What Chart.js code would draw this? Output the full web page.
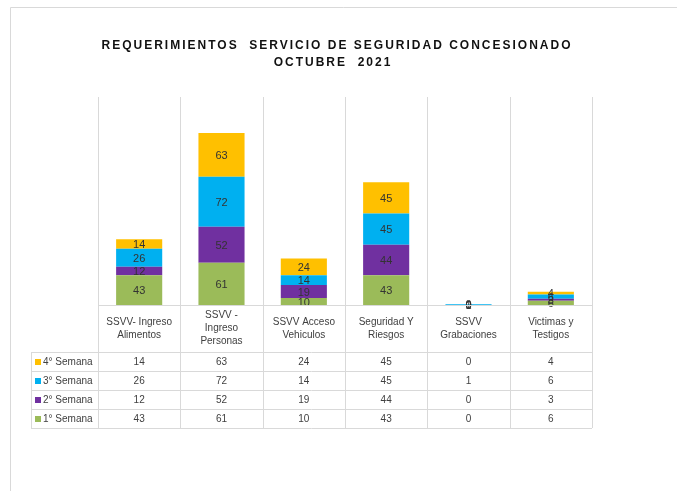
<!DOCTYPE html>
<html>
<head>
<meta charset="utf-8">
<script src="https://cdn.jsdelivr.net/npm/chart.js@4.4.0/dist/chart.umd.min.js"></script>
<style>
  body { margin: 0; background: #fff; }
  #wrap { position: relative; width: 677px; height: 491px; }
</style>
</head>
<body>
<div id="wrap"><canvas id="myChart" width="677" height="491"></canvas></div>
<script>
// categories (header lines of the data table)
const categories = [
  ['SSVV- Ingreso', 'Alimentos'],
  ['SSVV -', 'Ingreso', 'Personas'],
  ['SSVV Acceso', 'Vehiculos'],
  ['Seguridad Y', 'Riesgos'],
  ['SSVV', 'Grabaciones'],
  ['Victimas y', 'Testigos']
];

const semana1 = [43, 61, 10, 43, 0, 6];
const semana2 = [12, 52, 19, 44, 0, 3];
const semana3 = [26, 72, 14, 45, 1, 6];
const semana4 = [14, 63, 24, 45, 0, 4];

const seriesNames = ['1° Semana', '2° Semana', '3° Semana', '4° Semana'];
const seriesColors = ['#9BBB59', '#7030A0', '#00B0F0', '#FFC000'];

const titleLines = ['REQUERIMIENTOS  SERVICIO DE SEGURIDAD CONCESIONADO', 'OCTUBRE  2021'];

const gridColor = '#d9d9d9';
const textColor = '#404040';

// title, labels inside bars and the data table under the plot
const extras = {
  id: 'extras',
  beforeDatasetsDraw(chart) {
    const ctx = chart.ctx;
    const area = chart.chartArea;
    const n = categories.length;
    const colW = (area.right - area.left) / n;
    ctx.save();
    ctx.strokeStyle = gridColor;
    ctx.lineWidth = 1;
    ctx.beginPath();
    // outer frame
    ctx.moveTo(10.5, 491);
    ctx.lineTo(10.5, 7.5);
    ctx.lineTo(677, 7.5);
    // vertical grid lines through plot and table
    for (let c = 0; c <= n; c++) {
      const xx = Math.round(area.left + c * colW) + 0.5;
      ctx.moveTo(xx, area.top);
      ctx.lineTo(xx, 428);
    }
    ctx.stroke();
    ctx.restore();
  },
  afterDatasetsDraw(chart) {
    const ctx = chart.ctx;
    ctx.save();
    ctx.font = '11px "Liberation Sans Narrow", "Liberation Sans", Arial, sans-serif';
    ctx.fillStyle = '#333333';
    ctx.textAlign = 'center';
    ctx.textBaseline = 'middle';
    chart.data.datasets.forEach((ds, i) => {
      const meta = chart.getDatasetMeta(i);
      meta.data.forEach((bar, j) => {
        const y = (bar.y + bar.base) / 2;
        ctx.fillText(String(ds.data[j]), bar.x, y + 1);
      });
    });
    ctx.restore();
  },
  afterDraw(chart) {
    const ctx = chart.ctx;
    const area = chart.chartArea;
    const x = chart.scales.x;
    const headerBottom = 352;
    const rowH = 19;
    const tableLeft = 31;
    const rows = chart.data.datasets.slice().reverse();
    const tableBottom = headerBottom + rowH * rows.length;

    ctx.save();
    // title
    ctx.fillStyle = '#111111';
    ctx.font = 'bold 12px "Liberation Sans", Arial, sans-serif';
    ctx.letterSpacing = '2px';
    ctx.textAlign = 'center';
    ctx.textBaseline = 'middle';
    ctx.fillText(titleLines[0], 337, 46);
    ctx.fillText(titleLines[1], 333, 63);
    ctx.letterSpacing = '0px';

    // table lines
    ctx.strokeStyle = gridColor;
    ctx.lineWidth = 1;
    ctx.beginPath();
    ctx.moveTo(area.left, Math.round(area.bottom) + 0.5);
    ctx.lineTo(area.right, Math.round(area.bottom) + 0.5);
    for (let r = 0; r <= rows.length; r++) {
      const yy = headerBottom + r * rowH + 0.5;
      ctx.moveTo(tableLeft, yy);
      ctx.lineTo(area.right, yy);
    }
    ctx.moveTo(tableLeft + 0.5, headerBottom);
    ctx.lineTo(tableLeft + 0.5, tableBottom);
    ctx.stroke();

    // header labels
    ctx.fillStyle = textColor;
    ctx.font = '10px "Liberation Sans", Arial, sans-serif';
    const headerMid = (area.bottom + headerBottom) / 2;
    categories.forEach((lines, j) => {
      const cx = x.getPixelForValue(j);
      const lh = 13;
      const start = headerMid - (lines.length - 1) * lh / 2;
      lines.forEach((t, k) => ctx.fillText(t, cx, start + k * lh));
    });

    // rows
    rows.forEach((ds, r) => {
      const cy = headerBottom + r * rowH + rowH / 2 + 0.5;
      ctx.fillStyle = ds.backgroundColor;
      ctx.fillRect(tableLeft + 4, cy - 3, 6, 6);
      ctx.fillStyle = textColor;
      ctx.textAlign = 'left';
      ctx.fillText(ds.label, tableLeft + 12, cy);
      ctx.textAlign = 'center';
      ds.data.forEach((v, j) => {
        ctx.fillText(String(v), x.getPixelForValue(j), cy);
      });
    });
    ctx.restore();
  }
};

const ctx = document.getElementById('myChart');

new Chart(ctx, {
  type: 'bar',
  data: {
    labels: categories.map((c) => c.join(' ')),
    datasets: [semana1, semana2, semana3, semana4].map((d, i) => ({
      label: seriesNames[i],
      data: d,
      backgroundColor: seriesColors[i],
      borderWidth: 0,
      barPercentage: 0.7,
      categoryPercentage: 0.8
    }))
  },
  options: {
    responsive: false,
    animation: false,
    layout: {
      padding: { left: 98, right: 85, top: 97, bottom: 186 }
    },
    plugins: {
      legend: { display: false },
      title: { display: false },
      tooltip: { enabled: false }
    },
    scales: {
      x: {
        stacked: true,
        display: false
      },
      y: {
        stacked: true,
        display: false,
        min: 0,
        max: 300
      }
    }
  },
  plugins: [extras]
});
</script>
</body>
</html>
